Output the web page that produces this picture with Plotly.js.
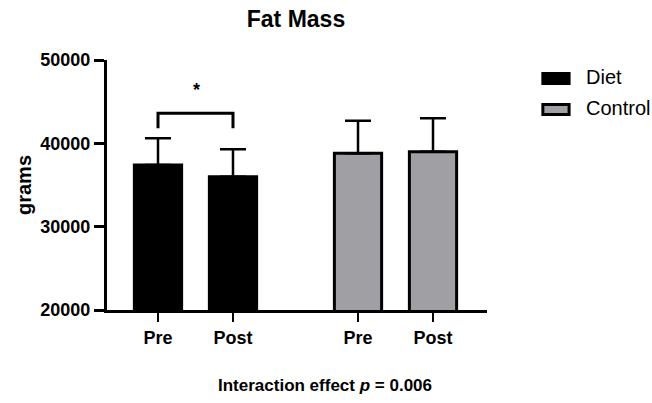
<!DOCTYPE html>
<html>
<head>
<meta charset="utf-8">
<script src="https://cdn.plot.ly/plotly-3.0.1.min.js"></script>
<style>html,body{margin:0;padding:0;background:#fff;}#chart{width:652px;height:403px;}</style>
</head>
<body>
<div id="chart"></div>
<script>
// ---- data ----
const groups = ["Diet", "Control"];
const conditions = ["Pre", "Post"];
const dietMeans = [37400, 36000];
const dietSD = [3200, 3300];
const controlMeans = [38800, 39000];
const controlSD = [3900, 4000];
const yTicks = [20000, 30000, 40000, 50000];
const chartTitle = "Fat Mass";
const yTitle = "grams";
const footnote = "<b>Interaction effect <i>p</i> = 0.006</b>";
const sigLabel = "*";

// ---- styling / layout ----
const colors = ["#000000", "#a0a0a4"];
const groupSpacing = 2.667;
const FONT = "Liberation Sans, Arial, Helvetica, sans-serif";
const means = [dietMeans, controlMeans];
const sds = [dietSD, controlSD];

const traces = groups.map((g, gi) => ({
  type: "bar",
  name: g,
  x: conditions.map((c, ci) => gi * groupSpacing + ci),
  y: means[gi],
  base: 0,
  width: 0.63,
  marker: { color: colors[gi], line: { color: "#000", width: 3 } },
  error_y: { type: "data", symmetric: false, array: sds[gi], arrayminus: sds[gi].map(() => 0),
             color: "#000", thickness: 2.5, width: 13 },
  showlegend: false,
  hoverinfo: "skip"
}));

const tickvals = [], ticktext = [];
groups.forEach((g, gi) => conditions.forEach((c, ci) => { tickvals.push(gi * groupSpacing + ci); ticktext.push(c); }));

// significance bracket between Diet Pre and Post, computed from data
const errTops = dietMeans.map((m, i) => m + dietSD[i]);
const bBottom = Math.max(...errTops) + 1200;
const bTop = Math.max(...errTops) + 3000;
const shapes = [{
  type: "path", xref: "x", yref: "y",
  path: `M 0,${bBottom} L 0,${bTop} L 1,${bTop} L 1,${bBottom}`,
  line: { color: "#000", width: 3 }
}];

const annotations = [
  { text: sigLabel, xref: "x", yref: "y", x: 0.52, y: bTop + 2800, showarrow: false,
    font: { family: FONT, size: 18, color: "#000", weight: "bold" } },
  { text: footnote, xref: "paper", yref: "paper", x: 0.574, y: -0.3, yanchor: "middle", showarrow: false,
    font: { family: FONT, size: 17, color: "#000" } }
];

// custom legend
const legX0 = 1.147, legX1 = 1.216, legTextX = 1.255;
const legY = [0.926, 0.802];
groups.forEach((g, gi) => {
  shapes.push({ type: "rect", xref: "paper", yref: "paper", x0: legX0, x1: legX1,
    y0: legY[gi] - 0.02, y1: legY[gi] + 0.02, fillcolor: colors[gi], line: { color: "#000", width: 3 } });
  annotations.push({ text: g, xref: "paper", yref: "paper", x: legTextX, y: legY[gi] + 0.006, xanchor: "left",
    yanchor: "middle", showarrow: false, font: { family: FONT, size: 20, color: "#000" } });
});

const layout = {
  width: 652, height: 403,
  margin: { l: 107, r: 165, t: 60, b: 93 },
  paper_bgcolor: "#fff", plot_bgcolor: "#fff",
  font: { family: FONT, color: "#000" },
  title: { text: chartTitle, x: 0.454, xanchor: "center", y: 0.952, yanchor: "middle", yref: "container",
           font: { family: FONT, size: 23, color: "#000", weight: "bold" } },
  bargap: 0,
  xaxis: {
    range: [-0.68, 4.387], tickmode: "array", tickvals: tickvals, ticktext: ticktext,
    showline: true, linecolor: "#000", linewidth: 3, ticks: "outside", ticklen: 9, tickwidth: 2.5, tickcolor: "#000",
    showgrid: false, zeroline: false, fixedrange: true,
    tickfont: { family: FONT, size: 18, color: "#000", weight: "bold" }
  },
  yaxis: {
    range: [20000, 50000], tickmode: "array", tickvals: yTicks, ticktext: yTicks.map(String),
    showline: true, linecolor: "#000", linewidth: 3, ticks: "outside", ticklen: 10, tickwidth: 3, tickcolor: "#000",
    showgrid: false, zeroline: false, fixedrange: true,
    tickfont: { family: FONT, size: 18, color: "#000", weight: "bold" },
    title: { text: yTitle, standoff: 4, font: { family: FONT, size: 20, color: "#000", weight: "bold" } }
  },
  shapes: shapes,
  annotations: annotations,
  showlegend: false
};

Plotly.newPlot("chart", traces, layout, { staticPlot: true, displayModeBar: false });
</script>
</body>
</html>
